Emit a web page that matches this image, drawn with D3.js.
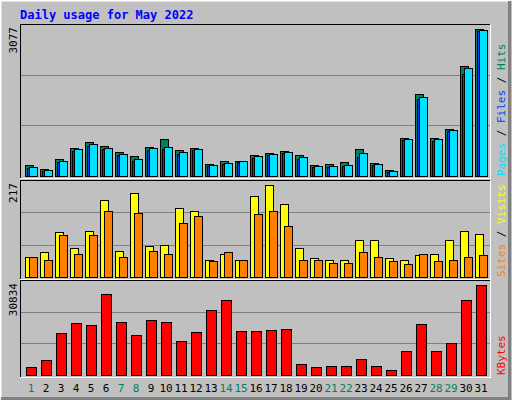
<!DOCTYPE html>
<html><head><meta charset="utf-8">
<script src="https://cdn.jsdelivr.net/npm/d3@7"></script>
<style>body{margin:0;background:#fff}</style></head>
<body><svg id="c" width="512" height="400"></svg>
<script>
const days = d3.range(1, 32);
const weekendDays = [1,7,8,14,15,21,22,28,29];
const hits  = [222,153,347,577,702,618,493,410,597,764,535,577,243,306,306,431,472,514,431,222,243,285,556,264,118,785,1702,785,972,2285,3077];
const files = [160,100,285,520,630,555,430,320,545,560,465,535,200,240,285,380,430,470,355,180,180,200,390,220,85,750,1600,740,930,2120,3020];
const pages = [181,118,306,556,660,577,451,347,577,597,493,556,222,264,306,410,451,493,389,201,201,222,472,243,97,764,1639,764,951,2243,3056];
const visits = [48,58,106,69,108,180,62,198,72,76,163,154,39,55,39,189,217,172,67,44,41,39,86,86,44,39,51,53,86,107,102];
const sites  = [46,39,98,55,98,156,46,149,62,55,126,144,37,58,39,147,156,119,41,41,34,32,58,48,37,30,53,37,41,48,51];
const kbytes = [2711,5082,14231,17620,16942,27445,17958,13553,18635,17958,11520,14569,22024,25412,14908,14908,15247,15586,3727,2711,3049,3049,5421,3049,1694,8132,17280,8132,10843,25412,30834];
const maxHits = 3077, maxVisits = 217, maxKbytes = 30834;

const svg = d3.select("#c");
const W = 512, H = 400;
svg.append("rect").attr("width",W).attr("height",H).attr("fill","#C0C0C0");
// bevel
svg.append("path").attr("d","M0.5,399.5V0.5H511.5").attr("stroke","#fff").attr("stroke-width",2).attr("fill","none");
svg.append("path").attr("d","M1,398.5H509.5V1").attr("stroke","#808080").attr("stroke-width",3).attr("fill","none");

svg.append("text").attr("x",20).attr("y",19).text("Daily usage for May 2022")
  .attr("font-family","DejaVu Sans Mono").attr("font-weight","bold").attr("font-size",12).attr("fill","#0000FF");

const x = d3.scaleBand().domain(days).range([21,486]).paddingInner(0).paddingOuter(0);
// band width 15 each, day1 starts ~25
const xs = d => 25 + (d-1)*15;

function panel(top, base, max, label) {
  svg.append("line").attr("x1",20).attr("x2",491).attr("y1",top+0.5).attr("y2",top+0.5).attr("stroke","#000");
  svg.append("line").attr("x1",20.5).attr("x2",20.5).attr("y1",top).attr("y2",base+3).attr("stroke","#000");
  svg.append("line").attr("x1",490.5).attr("x2",490.5).attr("y1",top).attr("y2",base+3).attr("stroke","#fff");
  svg.append("line").attr("x1",20).attr("x2",491).attr("y1",base+2.5).attr("y2",base+2.5).attr("stroke","#fff");
  const y = d3.scaleLinear().domain([0,max]).range([base, top+4.5]);
  const h = base - top;
  [1/3,2/3].forEach(f=>{
    svg.append("line").attr("x1",21).attr("x2",490).attr("y1",Math.round(top+h*f)+0.5).attr("y2",Math.round(top+h*f)+0.5).attr("stroke","#808080");
  });
  svg.append("text").attr("transform",`translate(17,${top+3}) rotate(-90)`).attr("text-anchor","end")
    .attr("font-family","DejaVu Sans Mono").attr("font-size",11).attr("fill","#000").text(label);
  return y;
}
function bars(data, y, off, w, fill) {
  svg.append("g").selectAll("rect").data(data).enter().append("rect")
    .attr("x",(d,i)=>xs(i+1)+off+0.5).attr("y",d=>Math.round(y(d))+0.5)
    .attr("width",w).attr("height",d=>Math.max(0,y(0)-Math.round(y(d))))
    .attr("fill",fill).attr("stroke","#000");
}
const y1 = panel(24, 176, maxHits, "3077");
bars(hits, y1, 0, 8, "#00805C");
bars(files, y1, 2, 8, "#0040FF");
bars(pages, y1, 4, 8, "#00E0FF");
const y2 = panel(180, 277, maxVisits, "217");
bars(visits, y2, 0, 8, "#FFFF00");
bars(sites, y2, 4, 8, "#FF8000");
const y3 = panel(280, 375, maxKbytes, "30834");
bars(kbytes, y3, 1, 10, "#FF0000");

// right legends
function vlegend(cx, cy, parts) {
  const t = svg.append("text").attr("transform",`translate(${cx},${cy}) rotate(90)`)
    .attr("font-family","DejaVu Sans Mono").attr("font-size",11);
  parts.forEach(p=>t.append("tspan").attr("fill",p[1]).text(p[0]));
}
// text rotated 90 reads top->bottom; reference reads bottom->top: use -90
function vlegendUp(cx, cy, parts) {
  const t = svg.append("text").attr("transform",`translate(${cx},${cy}) rotate(-90)`)
    .attr("font-family","DejaVu Sans Mono").attr("font-size",11);
  parts.forEach(p=>t.append("tspan").attr("fill",p[1]).text(p[0]));
}
vlegendUp(505, 176, [["Pages","#00E0FF"],[" / ","#000"],["Files","#0040FF"],[" / ","#000"],["Hits","#00805C"]]);
vlegendUp(505, 277, [["Sites","#FF8000"],[" / ","#000"],["Visits","#FFFF00"]]);
vlegendUp(505, 375, [["KBytes","#FF0000"]]);

svg.append("g").selectAll("text").data(days).enter().append("text")
  .attr("x",d=>xs(d)+6).attr("y",392).attr("text-anchor","middle")
  .attr("font-family","DejaVu Sans Mono").attr("font-size",11)
  .attr("fill",d=>weekendDays.includes(d)?"#00805C":"#000").text(d=>d);
</script></body></html>
